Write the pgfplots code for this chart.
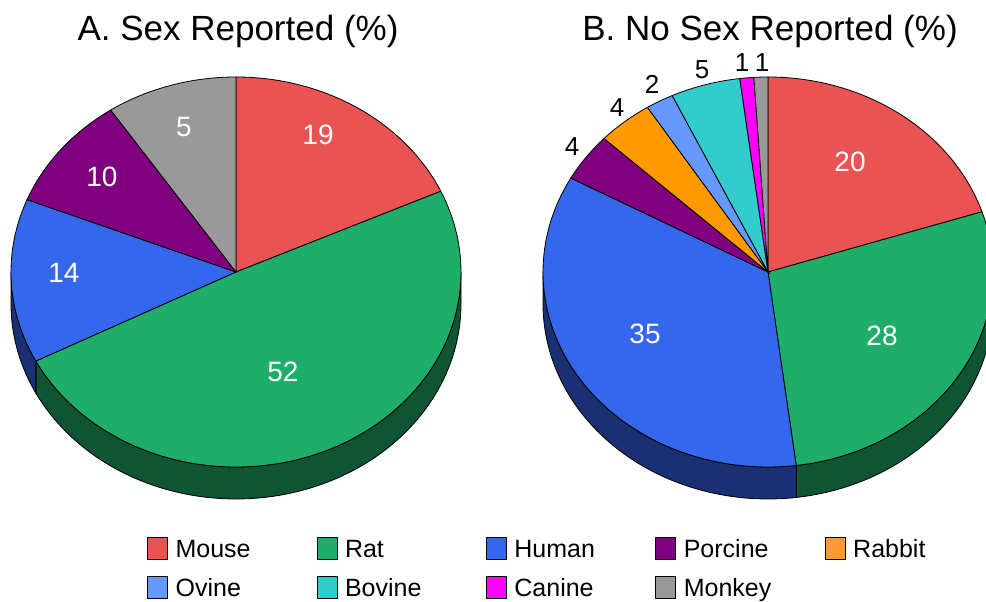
\documentclass[border=0pt]{standalone}
\usepackage{pgfplots}
\pgfplotsset{compat=1.18}
\usepgfplotslibrary{fillbetween}
\usepackage{fontspec}
\setmainfont{Liberation Sans}

\definecolor{cMouse}{RGB}{233,83,83}
\definecolor{cRat}{RGB}{31,174,106}
\definecolor{cHuman}{RGB}{52,103,235}
\definecolor{cPorcine}{RGB}{128,0,128}
\definecolor{cRabbit}{RGB}{255,153,0}
\definecolor{cRabbitL}{RGB}{255,153,51}
\definecolor{cOvine}{RGB}{102,153,255}
\definecolor{cBovine}{RGB}{51,204,204}
\definecolor{cCanine}{RGB}{255,0,255}
\definecolor{cMonkey}{RGB}{153,153,153}
\definecolor{cRatSide}{RGB}{15,85,52}
\definecolor{cHumanSide}{RGB}{26,48,115}

% slice of the top face: #1 centre x, #2 start (cumulative %), #3 end (cumulative %), #4 colour
\newcommand{\pieslice}[4]{%
  \addplot[fill=#4, draw=black, line width=0.8bp, domain=90-3.6*#3:90-3.6*#2, samples=90, forget plot]
    ({#1+225*cos(x)}, {272-195*sin(x)}) -- (axis cs:#1,272) -- cycle;
}
% side band: #1 centre x, #2 start (cumulative %), #3 end (cumulative %), #4 colour, #5 unique name
\newcommand{\pieside}[5]{%
  \addplot[draw=none, name path=#5a, domain=90-3.6*#3:90-3.6*#2, samples=90, forget plot]
    ({#1+225*cos(x)}, {272-195*sin(x)});
  \addplot[draw=none, name path=#5b, domain=90-3.6*#3:90-3.6*#2, samples=90, forget plot]
    ({#1+225*cos(x)}, {304-195*sin(x)});
  \addplot[fill=#4, draw=black, line width=0.8bp, forget plot] fill between[of=#5a and #5b];
}

\begin{document}
\begin{tikzpicture}
\begin{axis}[
  at={(0,0)}, anchor=south west,
  width=986bp, height=602bp, scale only axis,
  xmin=0, xmax=986, ymin=0, ymax=602, y dir=reverse,
  hide axis, clip=false,
  legend columns=5,
  legend image code/.code={\draw[#1, line width=0.8bp] (0bp,-11bp) rectangle (20bp,11bp); \path[draw=none, fill=none] (0bp,-1bp) rectangle (28bp,1bp);},
  legend style={at={(axis cs:147,537)}, anchor=north west, draw=none, fill=none,
    inner sep=0pt, column sep=0pt, row sep=16bp, cells={anchor=west},
    nodes={inner sep=0pt, text depth=0pt},
    font=\fontsize{25bp}{30bp}\selectfont},
]
% ---------- A. Sex Reported (slice sizes as drawn: 18.2, 49.25, 13.6, 9.55, 9.4) ----------
\pieside{236}{25}{67.45}{cRatSide}{la}
\pieside{236}{67.45}{75}{cHumanSide}{lb}
\pieslice{236}{0}{18.2}{cMouse}
\pieslice{236}{18.2}{67.45}{cRat}
\pieslice{236}{67.45}{81.05}{cHuman}
\pieslice{236}{81.05}{90.6}{cPorcine}
\pieslice{236}{90.6}{100}{cMonkey}
% ---------- B. No Sex Reported: 20, 28, 35, 4, 4, 2, 5, 1, 1 ----------
\pieside{768}{25}{48}{cRatSide}{ra}
\pieside{768}{48}{75}{cHumanSide}{rb}
\pieslice{768}{0}{20}{cMouse}
\pieslice{768}{20}{48}{cRat}
\pieslice{768}{48}{83}{cHuman}
\pieslice{768}{83}{87}{cPorcine}
\pieslice{768}{87}{91}{cRabbit}
\pieslice{768}{91}{93}{cOvine}
\pieslice{768}{93}{98}{cBovine}
\pieslice{768}{98}{99}{cCanine}
\pieslice{768}{99}{100}{cMonkey}

% titles
\node[font=\fontsize{35bp}{40bp}\selectfont, anchor=base] at (axis cs:238,41) {A. Sex Reported (\%)};
\node[font=\fontsize{35bp}{40bp}\selectfont, anchor=base] at (axis cs:770,41) {B. No Sex Reported (\%)};

% labels
\begin{scope}[every node/.style={text=white, inner sep=0pt, font=\fontsize{28bp}{30bp}\selectfont}]
\node at (axis cs:318,135) {19};
\node at (axis cs:283,372) {52};
\node at (axis cs:64,273) {14};
\node at (axis cs:102,177) {10};
\node at (axis cs:184,127) {5};
\node at (axis cs:850,162) {20};
\node at (axis cs:882,336) {28};
\node at (axis cs:645,334) {35};
\end{scope}
\begin{scope}[every node/.style={text=black, inner sep=0pt, font=\fontsize{26bp}{30bp}\selectfont}]
\node at (axis cs:572,147) {4};
\node at (axis cs:617,108) {4};
\node at (axis cs:652,84) {2};
\node at (axis cs:702,70) {5};
\node at (axis cs:742,63) {1};
\node at (axis cs:762,63) {1};
\end{scope}

% legend
\addlegendimage{fill=cMouse, draw=black}
\addlegendentry{\makebox[141bp][l]{Mouse}}
\addlegendimage{fill=cRat, draw=black}
\addlegendentry{\makebox[141bp][l]{Rat}}
\addlegendimage{fill=cHuman, draw=black}
\addlegendentry{\makebox[141bp][l]{Human}}
\addlegendimage{fill=cPorcine, draw=black}
\addlegendentry{\makebox[141bp][l]{Porcine}}
\addlegendimage{fill=cRabbitL, draw=black}
\addlegendentry{\makebox[141bp][l]{Rabbit}}
\addlegendimage{fill=cOvine, draw=black}
\addlegendentry{\makebox[141bp][l]{Ovine}}
\addlegendimage{fill=cBovine, draw=black}
\addlegendentry{\makebox[141bp][l]{Bovine}}
\addlegendimage{fill=cCanine, draw=black}
\addlegendentry{\makebox[141bp][l]{Canine}}
\addlegendimage{fill=cMonkey, draw=black}
\addlegendentry{\makebox[141bp][l]{Monkey}}
\end{axis}
\pgfresetboundingbox
\path[use as bounding box] (0,0) rectangle (986bp,602bp);
\end{tikzpicture}
\end{document}
